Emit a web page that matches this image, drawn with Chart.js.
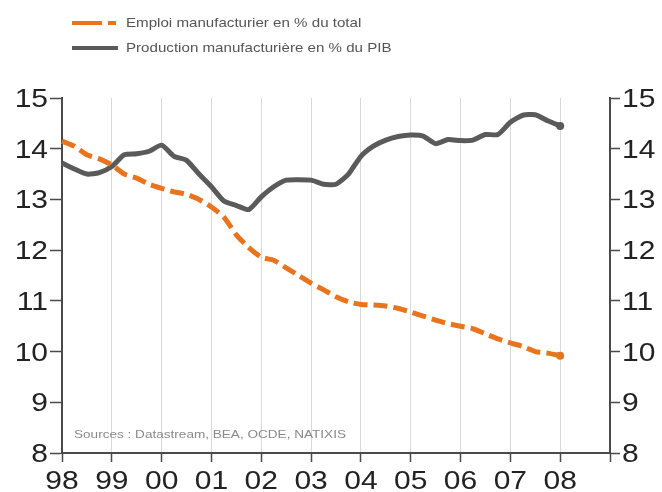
<!DOCTYPE html>
<html>
<head>
<meta charset="utf-8">
<script src="https://cdn.jsdelivr.net/npm/chart.js@4/dist/chart.umd.min.js"></script>
<style>
  html, body { margin: 0; padding: 0; background: #fff; }
  #wrap { position: relative; width: 662px; height: 492px; }
  #chart { position: absolute; left: 0; top: 0; }
  .leg { position: absolute; left: 72px; font: 13.5px "Liberation Sans", Arial, sans-serif; color: #555; display: flex; align-items: center; white-space: nowrap; }
  .leg .sw { width: 46px; height: 4px; margin-right: 8px; position: relative; }
  .leg .sw span { position: absolute; top: 0; height: 4px; }
  .leg .tx { display: inline-block; transform: scaleX(1.12); transform-origin: left center; }
</style>
</head>
<body>
<div id="wrap">
  <canvas id="chart" width="662" height="492"></canvas>
  <div class="leg" style="top:15px;"><div class="sw"><span style="left:0;width:30px;background:#e8741e"></span><span style="left:36px;width:8px;background:#e8741e"></span></div><span class="tx">Emploi manufacturier en % du total</span></div>
  <div class="leg" style="top:40px;"><div class="sw" style="background:#5a5a5a"></div><span class="tx">Production manufacturière en % du PIB</span></div>
</div>
<script>
// quarters 98T1 .. 09T1 (axis runs one year past the last point)
const QUARTERS = [
  "98T1","98T2","98T3","98T4","99T1","99T2","99T3","99T4",
  "00T1","00T2","00T3","00T4","01T1","01T2","01T3","01T4",
  "02T1","02T2","02T3","02T4","03T1","03T2","03T3","03T4",
  "04T1","04T2","04T3","04T4","05T1","05T2","05T3","05T4",
  "06T1","06T2","06T3","06T4","07T1","07T2","07T3","07T4",
  "08T1","08T2","08T3","08T4","09T1"
];
const YEAR_TICKS = ["98","99","00","01","02","03","04","05","06","07","08",""];
const Y_TICKS = [8, 9, 10, 11, 12, 13, 14, 15];

const EMPLOI = [
  14.15, 14.05, 13.88, 13.80, 13.68, 13.50, 13.42, 13.30,
  13.22, 13.15, 13.10, 13.00, 12.85, 12.65, 12.30, 12.05,
  11.86, 11.80, 11.65, 11.50, 11.35, 11.22, 11.08, 10.98,
  10.93, 10.92, 10.90, 10.85, 10.78, 10.70, 10.62, 10.55,
  10.50, 10.45, 10.35, 10.25, 10.17, 10.10, 10.00, 9.97,
  9.92
];
const PRODUCTION = [
  13.72, 13.60, 13.50, 13.53, 13.65, 13.88, 13.90, 13.95,
  14.07, 13.85, 13.77, 13.50, 13.25, 12.97, 12.88, 12.80,
  13.05, 13.25, 13.38, 13.39, 13.38, 13.30, 13.30, 13.50,
  13.85, 14.05, 14.17, 14.24, 14.27, 14.25, 14.10, 14.18,
  14.16, 14.17, 14.28, 14.28, 14.52, 14.66, 14.67, 14.55,
  14.45
];

const FONT = '"Liberation Sans", Arial, sans-serif';
const DARK = "#4a4a4a";
const LABEL_PX = 25;
const STRETCH = 1.2; // the source's lettering is a bit wider than Arial

// draw text stretched horizontally, vertically centred on the cap height
function wideText(c, txt, x, y, align, stretch) {
  c.save();
  c.translate(x, y);
  c.scale(stretch, 1);
  c.textAlign = align;
  c.fillText(txt, 0, 0);
  c.restore();
}

const wideLabels = {
  id: "wideLabels",
  afterDraw(chart) {
    const c = chart.ctx;
    const { x, y, y2 } = chart.scales;
    const off = LABEL_PX * 0.358;
    c.save();
    c.font = LABEL_PX + "px " + FONT;
    c.fillStyle = "#222";
    c.textBaseline = "alphabetic";
    Y_TICKS.forEach(v => {
      const py = y.getPixelForValue(v) + off;
      wideText(c, String(v), y.right - 14, py, "right", STRETCH);
      wideText(c, String(v), y2.left + 12, py, "left", STRETCH);
    });
    YEAR_TICKS.forEach((lab, i) => {
      if (!lab) return;
      wideText(c, lab, x.getPixelForValue(i * 4), x.top + 27 + off, "center", STRETCH);
    });
    c.restore();
  }
};

const sourcesNote = {
  id: "sourcesNote",
  afterDatasetsDraw(chart) {
    const c = chart.ctx;
    c.save();
    c.font = "11.5px " + FONT;
    c.fillStyle = "#8a8a8a";
    c.textBaseline = "middle";
    wideText(c, "Sources : Datastream, BEA, OCDE, NATIXIS", chart.chartArea.left + 12, chart.chartArea.bottom - 18, "left", 1.18);
    c.restore();
  }
};

function yAxis(pos) {
  return {
    position: pos, min: 8, max: 15,
    afterFit: s => { s.width = pos === "left" ? 62 : 52; },
    afterBuildTicks: s => { s.ticks = Y_TICKS.map(v => ({ value: v })); },
    border: { color: DARK, width: 2 },
    grid: { drawOnChartArea: false, tickColor: DARK, tickLength: pos === "left" ? 12 : 10, tickWidth: 1.5 },
    ticks: { display: false }
  };
}

new Chart(document.getElementById("chart"), {
  type: "line",
  data: {
    labels: QUARTERS,
    datasets: [
      { label: "Emploi manufacturier en % du total", data: EMPLOI, borderColor: "#e8741e", backgroundColor: "#e8741e",
        borderWidth: 5, borderDash: [14, 6], tension: 0.2, yAxisID: "y",
        pointRadius: c => c.dataIndex === EMPLOI.length - 1 ? 4 : 0, pointBorderWidth: 0 },
      { label: "Production manufacturière en % du PIB", data: PRODUCTION, borderColor: "#5a5a5a", backgroundColor: "#5a5a5a",
        borderWidth: 5, tension: 0.2, yAxisID: "y",
        pointRadius: c => c.dataIndex === PRODUCTION.length - 1 ? 4 : 0, pointBorderWidth: 0 }
    ]
  },
  options: {
    responsive: false, animation: false,
    layout: { padding: { top: 98, left: 0, right: 0, bottom: 0 } },
    plugins: { legend: { display: false }, tooltip: { enabled: false } },
    scales: {
      x: {
        afterFit: s => { s.height = 39; },
        border: { color: DARK, width: 2 },
        grid: {
          color: c => c.index % 4 === 0 ? "#d9d9d9" : "rgba(0,0,0,0)",
          tickColor: c => c.index % 4 === 0 ? DARK : "rgba(0,0,0,0)",
          tickLength: 9, lineWidth: 1, tickWidth: 1.5
        },
        ticks: { autoSkip: false, display: false }
      },
      y: yAxis("left"),
      y2: yAxis("right")
    }
  },
  plugins: [sourcesNote, wideLabels]
});
</script>
</body>
</html>
